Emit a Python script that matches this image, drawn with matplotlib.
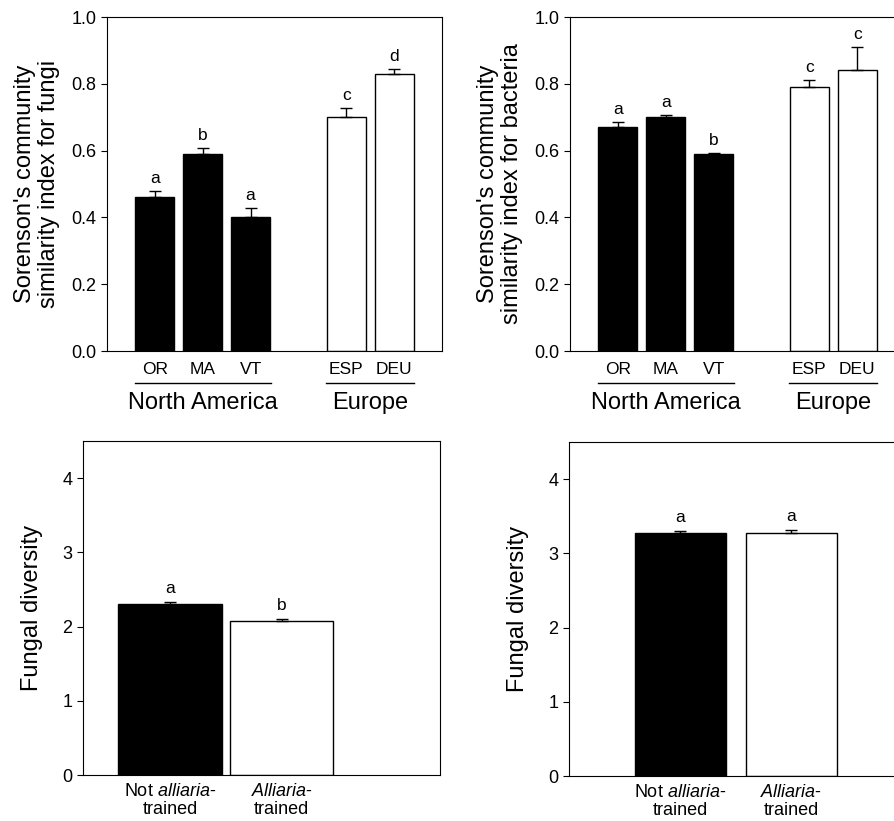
import matplotlib
matplotlib.use("Agg")
import matplotlib.pyplot as plt
import matplotlib.transforms as mtrans

plt.rcParams['font.family'] = ['Liberation Sans', 'DejaVu Sans']
plt.rcParams['mathtext.fontset'] = 'custom'
plt.rcParams['mathtext.it'] = 'Liberation Sans:italic'
plt.rcParams['mathtext.rm'] = 'Liberation Sans'

sites = ["OR", "MA", "VT", "ESP", "DEU"]
groups = ["North America", "Europe"]
fungi_sim = [0.46, 0.59, 0.40, 0.70, 0.83]
fungi_sim_err = [0.02, 0.017, 0.027, 0.027, 0.015]
fungi_sim_letters = ["a", "b", "a", "c", "d"]
bact_sim = [0.67, 0.70, 0.59, 0.79, 0.84]
bact_sim_err = [0.017, 0.008, 0.003, 0.02, 0.07]
bact_sim_letters = ["a", "a", "b", "c", "c"]

treat = [r"Not $\it{alliaria}$-" + "\ntrained", r"$\it{Alliaria}$-" + "\ntrained"]
div_left = [2.30, 2.07]
div_left_err = [0.03, 0.03]
div_left_letters = ["a", "b"]
div_right = [3.28, 3.28]
div_right_err = [0.015, 0.03]
div_right_letters = ["a", "a"]

W, H = 895, 821
fig = plt.figure(figsize=(W / 100, H / 100), dpi=100)

def ax_px(l, b, w, h):
    return fig.add_axes([l / W, (H - b) / H, w / W, h / H])

site_x = [0, 1, 2, 4, 5]
colors = ["black"] * 3 + ["white"] * 2

def top_panel(ax, vals, errs, letters, ylabel):
    ax.bar(site_x, vals, width=0.81, color=colors, edgecolor="black", linewidth=1)
    ax.errorbar(site_x, vals, yerr=[[0] * 5, errs], fmt="none", ecolor="black",
                capsize=4, elinewidth=1, capthick=1)
    for x, v, e, t in zip(site_x, vals, errs, letters):
        ax.text(x, v + e + 0.015, t, ha="center", va="bottom", fontsize=12.5)
    ax.set_xlim(-1, 6)
    ax.set_ylim(0, 1.0)
    ax.set_yticks([0, 0.2, 0.4, 0.6, 0.8, 1.0])
    ax.set_yticklabels(["0.0", "0.2", "0.4", "0.6", "0.8", "1.0"])
    ax.set_xticks([])
    ax.tick_params(axis="y", direction="out", length=4, labelsize=13)
    ax.set_ylabel(ylabel, fontsize=17, labelpad=8, linespacing=1.15)
    tr = mtrans.blended_transform_factory(ax.transData, ax.transAxes)
    for x, s in zip(site_x, sites):
        ax.text(x, -0.055, s, transform=tr, ha="center", va="center", fontsize=12.5)
    for (a, b), g in zip([(0, 2), (4, 5)], groups):
        ax.plot([a - 0.42, b + 0.42], [-0.097, -0.097], transform=tr, color="black",
                lw=1, clip_on=False)
        ax.text((a + b) / 2, -0.155, g, transform=tr, ha="center", va="center", fontsize=17)

def bot_panel(ax, vals, errs, letters, xlim, width):
    x = [0, 1]
    ax.bar(x, vals, width=width, color=["black", "white"], edgecolor="black", linewidth=1)
    ax.errorbar(x, vals, yerr=[[0, 0], errs], fmt="none", ecolor="black",
                capsize=4, elinewidth=1, capthick=1)
    for xi, v, e, t in zip(x, vals, errs, letters):
        ax.text(xi, v + e + 0.08, t, ha="center", va="bottom", fontsize=12.5)
    ax.set_xlim(*xlim)
    ax.set_ylim(0, 4.5)
    ax.set_yticks([0, 1, 2, 3, 4])
    ax.set_xticks(x)
    ax.set_xticklabels(treat, fontsize=13, linespacing=1.05)
    ax.tick_params(axis="x", length=0, pad=6)
    ax.tick_params(axis="y", direction="out", length=4, labelsize=13)
    ax.set_ylabel("Fungal diversity", fontsize=17, labelpad=14)

ax1 = ax_px(107, 351, 335, 334)
top_panel(ax1, fungi_sim, fungi_sim_err, fungi_sim_letters,
          "Sorenson's community\nsimilarity index for fungi")
ax2 = ax_px(570, 351, 335, 334)
top_panel(ax2, bact_sim, bact_sim_err, bact_sim_letters,
          "Sorenson's community\nsimilarity index for bacteria")

ax3 = ax_px(83, 775, 357, 334)
bot_panel(ax3, div_left, div_left_err, div_left_letters, (-0.78, 2.42), 0.93)
ax4 = ax_px(569, 776, 357, 334)
bot_panel(ax4, div_right, div_right_err, div_right_letters, (-1.0, 2.21), 0.82)

fig.savefig("out.png", dpi=100)
